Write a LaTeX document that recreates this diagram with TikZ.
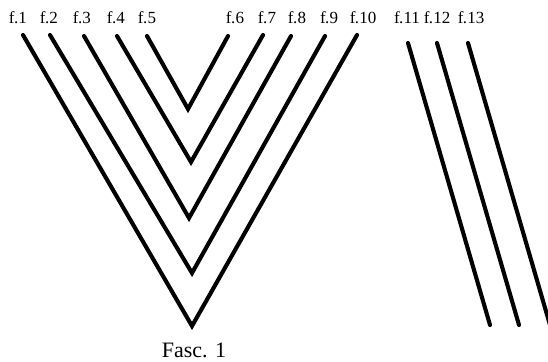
\documentclass[tikz,border=0pt]{standalone}
\usepackage{fontspec}
\setmainfont{Liberation Serif}
\newcommand{\fl}[1]{f\kern-0.6pt.\kern0.2pt#1}
\begin{document}
\begin{tikzpicture}[x=1pt,y=-1pt,
  strand/.style={line width=4.1pt,line cap=round,line join=miter},
  lab/.style={anchor=base,inner sep=0pt,font=\fontsize{17}{17}\selectfont}]
\useasboundingbox (0,0) rectangle (548,361);
\clip (0,0) rectangle (548,361);
% top end points
\coordinate (t1) at (23,35);
\coordinate (t2) at (50,35);
\coordinate (t3) at (84,36);
\coordinate (t4) at (117,36);
\coordinate (t5) at (147,36);
\coordinate (t6) at (228,36);
\coordinate (t7) at (263,35);
\coordinate (t8) at (291,36);
\coordinate (t9) at (325,36);
\coordinate (t10) at (357,35);
% vertices
\coordinate (v1) at (188,109);
\coordinate (v2) at (191,162);
\coordinate (v3) at (189,218);
\coordinate (v4) at (192,273);
\coordinate (v5) at (192,326);
% right strands
\coordinate (t11) at (408,43);
\coordinate (b11) at (490,325);
\coordinate (t12) at (437,43);
\coordinate (b12) at (519,325);
\coordinate (t13) at (468,43);
\coordinate (b13) at (550,325);
\draw[strand] (t5) -- (v1) -- (t6);
\draw[strand] (t4) -- (v2) -- (t7);
\draw[strand] (t3) -- (v3) -- (t8);
\draw[strand] (t2) -- (v4) -- (t9);
\draw[strand] (t1) -- (v5) -- (t10);
\draw[strand] (t11) -- (b11);
\draw[strand] (t12) -- (b12);
\draw[strand] (t13) -- (b13);
% labels
\node[lab] (l1) at (18,24) {\fl{1}};
\node[lab] (l2) at (49,24) {\fl{2}};
\node[lab] (l3) at (82,24) {\fl{3}};
\node[lab] (l4) at (116,24) {\fl{4}};
\node[lab] (l5) at (147,24) {\fl{5}};
\node[lab] (l6) at (235,24) {\fl{6}};
\node[lab] (l7) at (267,24) {\fl{7}};
\node[lab] (l8) at (297,24) {\fl{8}};
\node[lab] (l9) at (329,24) {\fl{9}};
\node[lab] (l10) at (363,24) {\fl{10}};
\node[lab] (l11) at (407,24) {\fl{11}};
\node[lab] (l12) at (437,24) {\fl{12}};
\node[lab] (l13) at (471,24) {\fl{13}};
\node[anchor=base,inner sep=0pt,font=\fontsize{22}{22}\selectfont] (cap) at (194,357) {Fasc. 1};
\end{tikzpicture}
\end{document}
